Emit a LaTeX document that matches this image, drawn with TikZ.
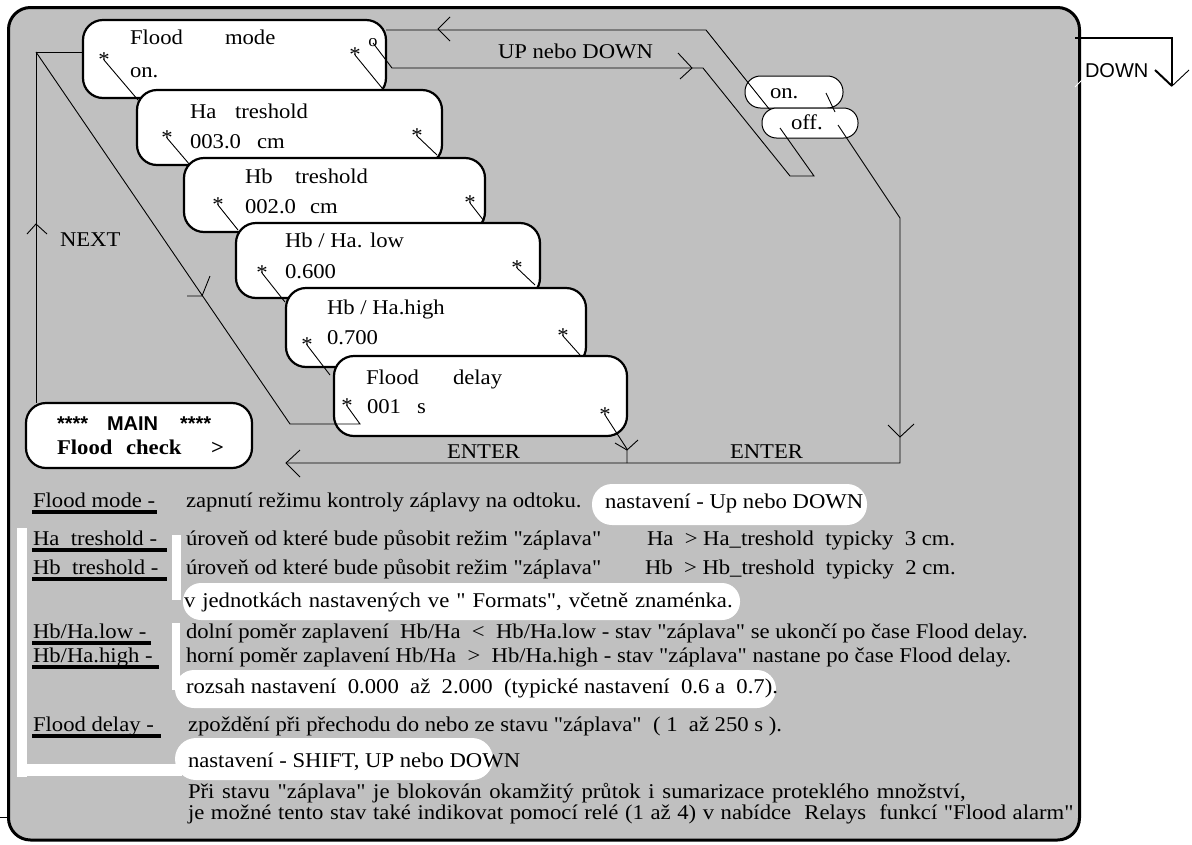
\documentclass[tikz,border=0pt]{standalone}
\usepackage{fontspec}
\setmainfont{Liberation Serif}[FakeStretch=1.08, Ligatures=TeXOff]
\newfontfamily\dsans{Liberation Sans}
\definecolor{panelgray}{RGB}{192,192,192}
\newcommand\dfs{\fontsize{21}{24}\selectfont}
\tikzset{
 txt/.style={anchor=base west, inner sep=0pt, outer sep=0pt, font=\dfs},
 ast/.style={inner sep=0pt, outer sep=0pt, font=\dfs},
 thinln/.style={line width=0.9pt},
 boxn/.style={draw, line width=2.2pt, fill=white, rounded corners=20pt, inner sep=0pt, outer sep=0pt},
 ovaln/.style={draw, line width=1pt, fill=white, inner sep=0pt, outer sep=0pt},
 ubar/.style={line width=3.2pt},
 whitebar/.style={fill=white},
}
\begin{document}
\begin{tikzpicture}[x=1pt,y=-1pt]
\useasboundingbox (0,0) rectangle (1192,844);
\fill[white] (0,0) rectangle (1192,844);
% panel
\draw[line width=3pt, fill=panelgray, rounded corners=22pt] (8.5,7.5) rectangle (1079.5,840);
\draw[thinln] (0,817) -- (8,817);
% top right DOWN
\draw[line width=2pt] (1075,38) -- (1172,38) -- (1172,86);
\draw[line width=2pt] (1155,70) -- (1172,86);
\draw[thinln] (1172,86) -- (1189,70);
\draw[white, thinln] (1075,87) -- (1082,80);
\node[txt, font=\dsans\fontsize{20}{22}\selectfont] (downlbl) at (1085,77) {DOWN};

% white bars and pills
\fill[whitebar] (17,528) rectangle (27,777);
\fill[whitebar] (17,764) rectangle (182,776);
\fill[whitebar] (172,535) rectangle (181,600);
\fill[whitebar] (172,623) rectangle (180,690);
\fill[white, rounded corners=20pt] (592,484) rectangle (867,525);
\fill[white, rounded corners=18pt] (183,583) rectangle (740,620);
\fill[white, rounded corners=19pt] (175,670) rectangle (776,708);
\fill[white, rounded corners=21pt] (175,738) rectangle (493,780);

% boxes
\node[boxn, minimum width=303pt, minimum height=78pt] (b1) at (234.5,59) {};
\node[boxn, minimum width=305pt, minimum height=75pt] (b2) at (289.5,127.5) {};
\node[boxn, minimum width=301pt, minimum height=74pt] (b3) at (334.5,195) {};
\node[boxn, minimum width=304pt, minimum height=75pt] (b4) at (388,260.5) {};
\node[boxn, minimum width=300pt, minimum height=79pt] (b5) at (436,327.5) {};
\node[boxn, minimum width=293pt, minimum height=80pt] (b6) at (480.5,396) {};
\node[boxn, minimum width=226pt, minimum height=65pt] (mb) at (139,435.5) {};
\node[ovaln, minimum width=98pt, minimum height=32pt, rounded corners=15.5pt] (onov) at (794,92) {};
\node[ovaln, minimum width=96pt, minimum height=30pt, rounded corners=14.5pt] (offov) at (810,123) {};

% box texts
\node[txt] (t1a) at (130,44) {Flood};
\node[txt] (t1b) at (225,44) {mode};
\node[txt] (t1c) at (130,77) {on.};
\node[txt] (t2a) at (190,118) {Ha};
\node[txt] (t2b) at (235,118) {treshold};
\node[txt] (t2c) at (190,148) {003.0};
\node[txt] (t2d) at (257,148) {cm};
\node[txt] (t3a) at (245,183) {Hb};
\node[txt] (t3b) at (295,183) {treshold};
\node[txt] (t3c) at (245,213) {002.0};
\node[txt] (t3d) at (310,213) {cm};
\node[txt] (t4a) at (285,247) {Hb / Ha. low};
\node[txt] (t4b) at (285,278) {0.600};
\node[txt] (t5a) at (327,314) {Hb / Ha.high};
\node[txt] (t5b) at (327,344) {0.700};
\node[txt] (t6a) at (366,384) {Flood};
\node[txt] (t6b) at (453,384) {delay};
\node[txt] (t6c) at (367,413) {001};
\node[txt] (t6d) at (417,413) {s};
\node[txt, font=\dsans\bfseries\fontsize{20}{22}\selectfont] (m1) at (57,430) {****};
\node[txt, font=\dsans\bfseries\fontsize{20}{22}\selectfont] (m2) at (107,430) {MAIN};
\node[txt, font=\dsans\bfseries\fontsize{20}{22}\selectfont] (m3) at (180,430) {****};
\node[txt, font=\dfs\bfseries] (m4) at (57,454) {Flood};
\node[txt, font=\dfs\bfseries] (m5) at (126,454) {check};
\node[txt, font=\dfs\bfseries] (m6) at (211,454) {>};
\node[txt] (ontxt) at (770,98) {on.};
\node[txt] (offtxt) at (791,129) {off.};

% asterisks
\node[ast] (a1l) at (104,60) {*};
\node[ast] (a1r) at (355,55) {*};
\node[ast, font=\fontsize{17}{20}\selectfont] (o1) at (373,43) {o};
\node[ast] (a2l) at (167,138) {*};
\node[ast] (a2r) at (417,136) {*};
\node[ast] (a3l) at (218,205) {*};
\node[ast] (a3r) at (470,203) {*};
\node[ast] (a4l) at (262,273) {*};
\node[ast] (a4r) at (517,268) {*};
\node[ast] (a5l) at (307,345) {*};
\node[ast] (a5r) at (563,336) {*};
\node[ast] (a6l) at (347,406) {*};
\node[ast] (a6r) at (605,415) {*};

% asterisk connectors
\draw[thinln] (a1l.center) -- (138,100);
\draw[thinln] (a1r.center) -- (382,88);
\draw[thinln] (a2l.center) -- (190,165);
\draw[thinln] (a2r.center) -- (437,155);
\draw[thinln] (a3l.center) -- (238,230);
\draw[thinln] (a3r.center) -- (484,221);
\draw[thinln] (a4l.center) -- (285,302);
\draw[thinln] (a4r.center) -- (535,285);
\draw[thinln] (a5l.center) -- (330,375);
\draw[thinln] (a5r.center) -- (580,355);

% NEXT loop
\coordinate (nl) at (36,52);
\draw[thinln] (36,403) -- (nl) -- (83,52);
\draw[thinln] (27,234) -- (36,224) -- (47,234);
\draw[thinln] (nl) -- (290,424) -- (360,424) -- (a6l.center);
\draw[thinln] (187,296) -- (202,296) -- (210,276);
\node[txt] (nexttxt) at (60,246) {NEXT};

% UP / DOWN loop
\draw[thinln] (o1.center) -- (392,68) -- (703,68) -- (790,176) -- (814,176) -- (780,128);
\draw[thinln] (678,53) -- (692,68) -- (680,79);
\draw[thinln] (770,110) -- (706,30) -- (386,30);
\draw[thinln] (450,17) -- (438,29) -- (450,41);
\draw[thinln] (826,93) -- (835,112);
\node[txt] (updown) at (498,58) {UP nebo DOWN};

% ENTER loops
\draw[thinln] (838,125) -- (900,218) -- (900,463) -- (286,463);
\draw[thinln] (888,425) -- (900,437) -- (914,424);
\draw[thinln] (300,450) -- (286,463) -- (300,477);
\draw[thinln] (a6r.center) -- (627,449) -- (627,463);
\draw[thinln] (615,443) -- (627,450) -- (638,440);
\node[txt] (enter1) at (447,458) {ENTER};
\node[txt] (enter2) at (730,458) {ENTER};

% legend labels
\node[txt] (l1) at (33,507) {Flood mode -};
\node[txt] (l2) at (33,545) {Ha~~treshold -};
\node[txt] (l3) at (33,574) {Hb~~treshold -};
\node[txt] (l4) at (33,638) {Hb/Ha.low -};
\node[txt] (l5) at (33,662) {Hb/Ha.high -};
\node[txt] (l6) at (33,731) {Flood delay -};
\draw[ubar] (32,512) -- (157,512);
\draw[ubar] (32,550) -- (167,550);
\draw[ubar] (32,579) -- (167,579);
\draw[ubar] (32,643) -- (151,643);
\draw[ubar] (32,667) -- (159,667);
\draw[ubar] (32,736) -- (161,736);

% legend texts
\node[txt] (d1) at (186,507) {zapnutí režimu kontroly záplavy na odtoku.};
\node[txt] (d1b) at (605,508) {nastavení - Up nebo DOWN};
\node[txt] (d2) at (186,545) {úroveň od které bude působit režim "záplava"};
\node[txt] (d2b) at (647,545) {Ha~~> Ha\_treshold~~typicky~~3 cm.};
\node[txt] (d3) at (186,574) {úroveň od které bude působit režim "záplava"};
\node[txt] (d3b) at (645,574) {Hb~~> Hb\_treshold~~typicky~~2 cm.};
\node[txt] (d4) at (184,607) {\spaceskip=7pt plus 1pt v jednotkách nastavených ve " Formats", včetně znaménka.};
\node[txt] (d5) at (186,638) {dolní poměr zaplavení~~Hb/Ha~~<~~Hb/Ha.low - stav "záplava" se ukončí po čase Flood delay.};
\node[txt] (d6) at (186,662) {horní poměr zaplavení Hb/Ha~~>~~Hb/Ha.high - stav "záplava" nastane po čase Flood delay.};
\node[txt] (d7) at (186,693) {rozsah nastavení~~0.000~~až~~2.000~~(typické nastavení~~0.6 a~~0.7).};
\node[txt] (d8) at (188,731) {zpoždění při přechodu do nebo ze stavu "záplava"~~( 1~~až 250 s ).};
\node[txt] (d9) at (188,767) {nastavení - SHIFT, UP nebo DOWN};
\node[txt] (d10) at (188,798) {\spaceskip=7.7pt plus 1pt Při stavu "záplava" je blokován okamžitý průtok i sumarizace proteklého množství,};
\node[txt] (d11) at (188,819) {\spaceskip=6.6pt plus 1pt je možné tento stav také indikovat pomocí relé (1 až 4) v nabídce~~Relays~~funkcí "Flood alarm"};
\end{tikzpicture}
\end{document}
